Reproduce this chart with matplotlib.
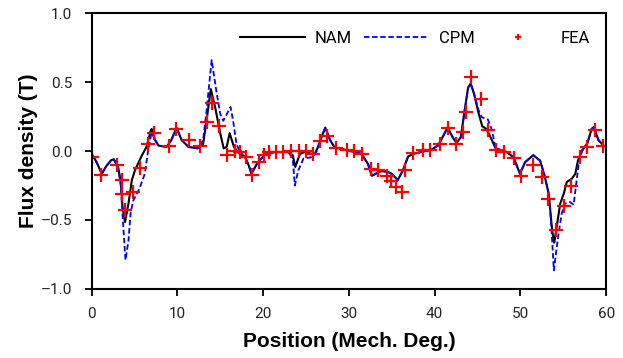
import matplotlib
matplotlib.use('Agg')
import matplotlib.pyplot as plt

# NAM curve (black solid)
nam_pos = [0.0, 0.5, 1.2, 1.7, 2.3, 2.6, 3.1, 3.4, 3.6, 3.9, 4.3, 4.7, 5.05, 5.8,
           6.4, 6.9, 7.0, 7.4, 7.8, 8.75, 9.3, 9.9, 10.5, 11.3, 12.4, 13.0, 13.4,
           13.9, 14.4, 15.0, 15.4, 15.75, 16.1, 16.6, 17.1, 17.9, 18.3, 18.65,
           19.3, 20.2, 21.35, 22.9, 23.45, 23.75, 24.3, 24.85, 26.0, 26.4, 26.8,
           27.25, 27.8, 28.35, 29.9, 31.45, 32.2, 32.7, 33.1, 33.8, 34.5, 35.0,
           35.7, 36.3, 36.9, 37.5, 39.6, 40.4, 41.0, 41.5, 42.2, 42.55, 43.05,
           43.5, 43.9, 44.2, 44.6, 45.1, 45.55, 46.05, 46.6, 47.1, 48.4, 49.2,
           49.95, 50.55, 51.5, 52.3, 52.8, 53.3, 53.7, 53.95, 54.35, 54.65, 55.05,
           55.4, 56.0, 56.4, 56.7, 57.2, 57.8, 58.3, 58.55, 59.1, 59.7, 60.0]
nam_b = [-0.02, -0.07, -0.165, -0.11, -0.065, -0.06, -0.12, -0.22, -0.40, -0.515,
         -0.38, -0.21, -0.14, -0.04, 0.03, 0.15, 0.16, 0.08, 0.04, 0.03, 0.08,
         0.17, 0.08, 0.03, 0.02, 0.05, 0.22, 0.45, 0.32, 0.13, 0.02, 0.03, 0.13,
         0.03, -0.01, -0.045, -0.10, -0.165, -0.09, -0.025, -0.007, -0.007,
         -0.03, -0.115, -0.02, -0.007, -0.025, 0.03, 0.10, 0.17, 0.08, 0.025,
         0.005, -0.02, -0.09, -0.18, -0.165, -0.145, -0.15, -0.165, -0.21, -0.14,
         -0.04, -0.02, 0.01, 0.04, 0.11, 0.17, 0.09, 0.06, 0.10, 0.295, 0.46,
         0.49, 0.415, 0.28, 0.18, 0.16, 0.09, 0.02, -0.007, -0.045, -0.165,
         -0.08, -0.03, -0.07, -0.175, -0.31, -0.575, -0.665, -0.50, -0.38, -0.31,
         -0.225, -0.20, -0.165, -0.07, 0.005, 0.055, 0.16, 0.175, 0.08, 0.04, 0.03]

# CPM curve (blue dashed)
cpm_pos = [0.0, 0.5, 1.2, 1.7, 2.3, 2.6, 3.1, 3.4, 3.7, 3.95, 4.3, 4.55, 4.85, 5.6,
           6.2, 6.6, 7.0, 7.4, 7.8, 8.75, 9.3, 9.9, 10.5, 11.3, 12.4, 13.0, 13.4,
           14.0, 14.6, 15.0, 15.35, 16.2, 16.5, 16.9, 17.3, 17.9, 18.3, 18.65,
           19.3, 20.2, 21.35, 22.9, 23.45, 23.7, 24.1, 24.7, 25.6, 26.2, 26.8,
           27.25, 27.8, 28.35, 29.9, 31.45, 32.2, 32.7, 33.1, 33.8, 34.5, 35.0,
           35.7, 36.3, 36.9, 37.5, 39.6, 40.4, 41.0, 41.5, 42.2, 42.55, 43.05,
           43.5, 43.9, 44.2, 44.6, 45.1, 45.5, 46.2, 46.7, 47.1, 48.4, 49.2,
           49.95, 50.55, 51.5, 52.3, 52.8, 53.3, 53.5, 53.7, 53.9, 54.4, 54.8,
           55.2, 55.8, 56.2, 56.5, 56.8, 57.2, 57.8, 58.3, 58.55, 59.1, 59.7, 60.0]
cpm_b = [-0.02, -0.07, -0.165, -0.11, -0.065, -0.06, -0.12, -0.25, -0.55, -0.79,
         -0.65, -0.45, -0.36, -0.27, -0.165, 0.005, 0.14, 0.08, 0.04, 0.03, 0.08,
         0.17, 0.08, 0.03, 0.02, 0.08, 0.29, 0.66, 0.415, 0.27, 0.22, 0.32, 0.22,
         0.05, -0.007, -0.045, -0.10, -0.165, -0.09, -0.025, -0.007, -0.007,
         -0.05, -0.25, -0.14, -0.055, -0.045, -0.007, 0.10, 0.17, 0.08, 0.025,
         0.005, -0.02, -0.09, -0.18, -0.165, -0.145, -0.15, -0.165, -0.21, -0.14,
         -0.04, -0.02, 0.01, 0.04, 0.11, 0.17, 0.09, 0.06, 0.10, 0.295, 0.46,
         0.49, 0.415, 0.30, 0.245, 0.23, 0.15, 0.02, -0.007, -0.045, -0.165,
         -0.08, -0.03, -0.07, -0.175, -0.31, -0.45, -0.65, -0.865, -0.62, -0.455,
         -0.38, -0.37, -0.39, -0.24, -0.09, 0.005, 0.055, 0.16, 0.175, 0.08, 0.04,
         0.03]

# FEA points (red +)
fea_pos = [0.0, 1.1, 3.0, 3.6, 3.5, 3.9, 4.8, 5.7, 6.6, 7.3, 9.0, 9.9, 11.4, 12.6,
           13.5, 14.0, 14.9, 15.8, 16.7, 17.3, 18.0, 18.7, 19.5, 20.1, 20.7,
           21.5, 22.3, 23.3, 24.2, 25.0, 25.8, 26.6, 27.5, 28.5, 29.8, 30.6,
           31.5, 32.6, 33.4, 34.4, 34.9, 35.5, 36.2, 36.6, 37.5, 38.7, 39.4,
           40.6, 41.5, 42.5, 43.3, 43.7, 44.2, 45.4, 46.2, 47.1, 48.1, 49.2,
           50.1, 51.5, 52.5, 53.2, 54.1, 55.1, 55.9, 56.9, 57.8, 58.7, 59.6]
fea_b = [-0.04, -0.17, -0.10, -0.21, -0.31, -0.43, -0.30, -0.12, 0.05, 0.13, 0.04,
         0.16, 0.08, 0.04, 0.21, 0.35, 0.18, -0.03, 0.0, -0.01, -0.04, -0.17,
         -0.08, -0.03, -0.01, -0.01, -0.01, 0.0, 0.0, 0.0, -0.02, 0.07, 0.11,
         0.02, 0.005, 0.0, -0.02, -0.13, -0.135, -0.18, -0.22, -0.26, -0.30,
         -0.14, -0.015, 0.005, 0.005, 0.05, 0.17, 0.05, 0.14, 0.28, 0.54, 0.38,
         0.155, 0.01, -0.005, -0.05, -0.18, -0.10, -0.19, -0.35, -0.57, -0.40,
         -0.25, -0.04, 0.03, 0.155, 0.04]

xticks = [0, 10, 20, 30, 40, 50, 60]
yticks = [-1.0, -0.5, 0.0, 0.5, 1.0]

plt.rcParams['font.family'] = ['Roboto', 'DejaVu Sans']

fig = plt.figure(figsize=(6.23, 3.58), dpi=100)
ax = fig.add_axes([0.147, 0.193, 0.826, 0.77])

ax.plot(nam_pos, nam_b, color='black', lw=1.5, label='NAM')
ax.plot(cpm_pos, cpm_b, color='#0000ff', lw=1.3, ls=(0, (3, 1.5)), label='CPM')
ax.plot(fea_pos, fea_b, ls='none', marker='+', color='red', ms=10, mew=1.6,
        label='FEA')

ax.set_xlim(0, 60)
ax.set_ylim(-1.0, 1.0)
ax.set_xticks(xticks)
ax.set_yticks(yticks)
ax.set_yticklabels([f'{v:.1f}'.replace('-', '\u2013') for v in yticks])
ax.tick_params(labelsize=11, length=5, width=1.3, direction='out',
               labelcolor='#222222')
ax.tick_params(axis='x', pad=8)
ax.tick_params(axis='y', pad=9)
for s in ax.spines.values():
    s.set_linewidth(1.5)

ax.set_xlabel('Position (Mech. Deg.)', fontsize=15, fontweight='bold',
              family='Liberation Sans', labelpad=8)
ax.set_ylabel('Flux density (T)', fontsize=15, fontweight='bold',
              family='Liberation Sans', labelpad=2)

leg = ax.legend(loc='center right', bbox_to_anchor=(0.982, 0.91), ncol=3,
                frameon=False, fontsize=12, handlelength=3.9,
                columnspacing=0.7, handletextpad=0.6, markerscale=0.5,
                borderaxespad=0)

fig.savefig('out.png', dpi=100)
